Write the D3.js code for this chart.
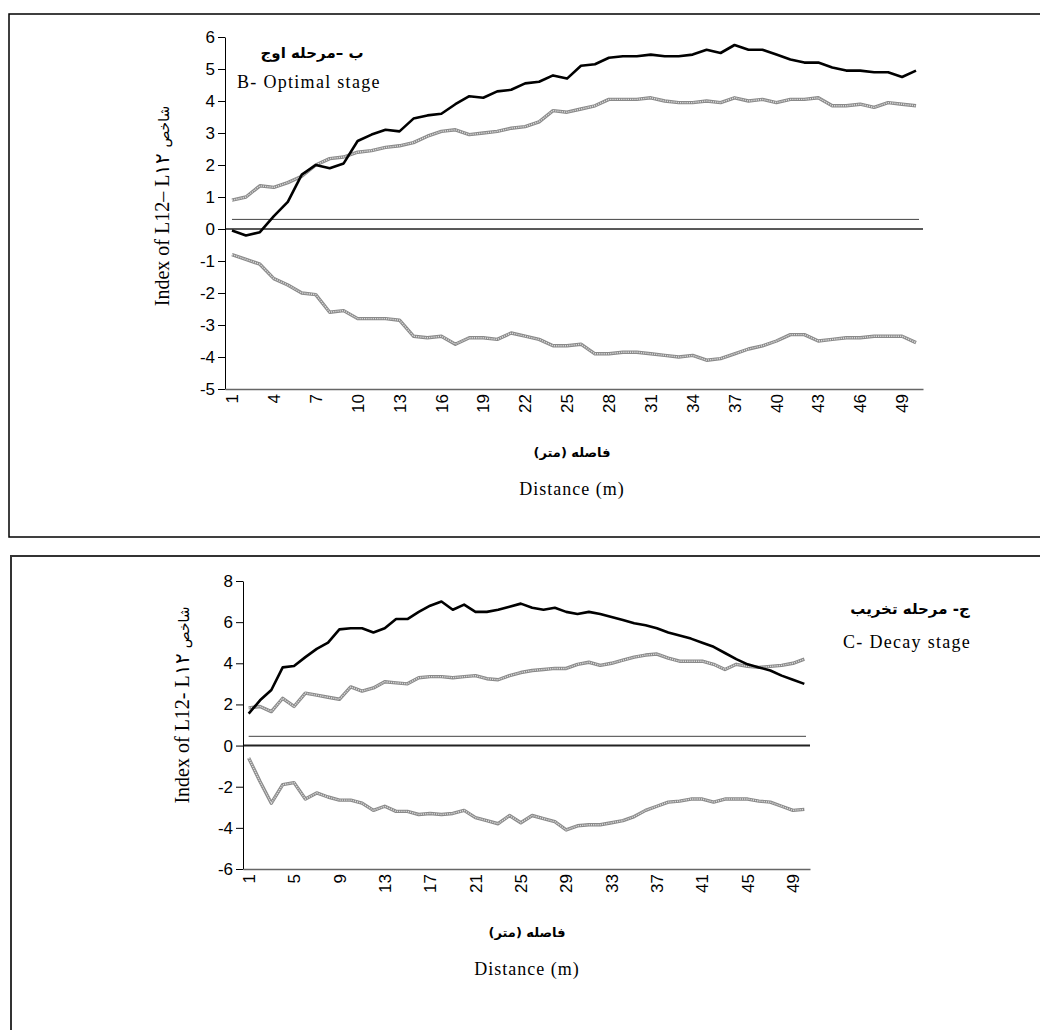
<!DOCTYPE html>
<html><head><meta charset="utf-8">
<script src="https://cdn.jsdelivr.net/npm/d3@7"></script>
<style>body{margin:0;background:#fff}</style></head>
<body><svg id="c" width="1040" height="1030"></svg>
<script>
// ---------- DATA ----------
const distances = [1,2,3,4,5,6,7,8,9,10,11,12,13,14,15,16,17,18,19,20,21,22,23,24,25,26,27,28,29,30,31,32,33,34,35,36,37,38,39,40,41,42,43,44,45,46,47,48,49,50];

// Chart B - Optimal stage
const optimalL = [-0.05,-0.2,-0.1,0.4,0.85,1.7,2.0,1.9,2.05,2.75,2.95,3.1,3.05,3.45,3.55,3.6,3.9,4.15,4.1,4.3,4.35,4.55,4.6,4.8,4.7,5.1,5.15,5.35,5.4,5.4,5.45,5.4,5.4,5.45,5.6,5.5,5.75,5.6,5.6,5.45,5.3,5.2,5.2,5.05,4.95,4.95,4.9,4.9,4.75,4.95];
const optimalUpper = [0.9,1.0,1.35,1.3,1.45,1.65,2.0,2.2,2.25,2.4,2.45,2.55,2.6,2.7,2.9,3.05,3.1,2.95,3.0,3.05,3.15,3.2,3.35,3.7,3.65,3.75,3.85,4.05,4.05,4.05,4.1,4.0,3.95,3.95,4.0,3.95,4.1,4.0,4.05,3.95,4.05,4.05,4.1,3.85,3.85,3.9,3.8,3.95,3.9,3.85];
const optimalLower = [-0.8,-0.95,-1.1,-1.55,-1.75,-2.0,-2.05,-2.6,-2.55,-2.8,-2.8,-2.8,-2.85,-3.35,-3.4,-3.35,-3.6,-3.4,-3.4,-3.45,-3.25,-3.35,-3.45,-3.65,-3.65,-3.6,-3.9,-3.9,-3.85,-3.85,-3.9,-3.95,-4.0,-3.95,-4.1,-4.05,-3.9,-3.75,-3.65,-3.5,-3.3,-3.3,-3.5,-3.45,-3.4,-3.4,-3.35,-3.35,-3.35,-3.55];
const optimalThreshold = 0.3;
const optimalYTicks = [-5,-4,-3,-2,-1,0,1,2,3,4,5,6];
const optimalXLabels = [1,4,7,10,13,16,19,22,25,28,31,34,37,40,43,46,49];

// Chart C - Decay stage
const decayL = [1.55,2.2,2.7,3.8,3.87,4.3,4.7,5.0,5.65,5.7,5.7,5.5,5.7,6.15,6.15,6.5,6.8,7.0,6.6,6.85,6.5,6.5,6.6,6.75,6.9,6.7,6.6,6.7,6.5,6.4,6.5,6.4,6.25,6.1,5.95,5.85,5.7,5.5,5.35,5.2,5.0,4.8,4.5,4.2,3.95,3.8,3.65,3.4,3.2,3.0];
const decayUpper = [1.83,1.9,1.65,2.3,1.9,2.55,2.45,2.35,2.25,2.85,2.65,2.8,3.1,3.05,3.0,3.3,3.35,3.35,3.3,3.35,3.4,3.25,3.2,3.4,3.55,3.65,3.7,3.75,3.75,3.95,4.05,3.9,4.0,4.15,4.3,4.4,4.45,4.25,4.1,4.1,4.1,3.95,3.7,3.95,3.85,3.8,3.85,3.9,4.0,4.2];
const decayLower = [-0.6,-1.75,-2.8,-1.9,-1.8,-2.6,-2.3,-2.5,-2.65,-2.65,-2.8,-3.15,-2.95,-3.2,-3.2,-3.35,-3.3,-3.35,-3.3,-3.15,-3.5,-3.65,-3.8,-3.4,-3.75,-3.4,-3.55,-3.7,-4.1,-3.9,-3.85,-3.85,-3.75,-3.65,-3.45,-3.15,-2.95,-2.75,-2.7,-2.6,-2.6,-2.75,-2.6,-2.6,-2.6,-2.7,-2.75,-2.95,-3.15,-3.1];
const decayThreshold = 0.45;
const decayYTicks = [-6,-4,-2,0,2,4,6,8];
const decayXLabels = [1,5,9,13,17,21,25,29,33,37,41,45,49];

// ---------- DRAW ----------
const svg = d3.select('#c');
const SANS = 'Liberation Sans, Arial, sans-serif';
const SERIF = 'Liberation Serif, Times New Roman, serif';
const FA = 'DejaVu Sans, sans-serif';

// frames
svg.append('rect').attr('x',9).attr('y',14).attr('width',1040).attr('height',523)
  .attr('fill','none').attr('stroke','#000').attr('stroke-width',1.5);
svg.append('rect').attr('x',11).attr('y',556).attr('width',1040).attr('height',490)
  .attr('fill','none').attr('stroke','#333').attr('stroke-width',2);

function chart(o){
  const x = d3.scaleBand().domain(distances).range(o.xr).padding(0);
  const y = d3.scaleLinear().domain(o.yd).range(o.yr);
  const cx = d => x(d) + x.bandwidth()/2;
  const g = svg.append('g');

  // zero line and threshold line
  g.append('line').attr('x1',o.xr[0]).attr('x2',o.xr[1]).attr('y1',y(0)).attr('y2',y(0))
    .attr('stroke','#222').attr('stroke-width',o.zeroW);
  g.append('line').attr('x1',cx(distances[0])).attr('x2',o.xr[1]-4).attr('y1',y(o.thr)).attr('y2',y(o.thr))
    .attr('stroke','#444').attr('stroke-width',1);

  // axes
  const ya = g.append('g').attr('transform',`translate(${o.xr[0]},0)`)
    .call(d3.axisLeft(y).tickValues(o.yt).tickSize(7).tickSizeOuter(0).tickPadding(3).tickFormat(d=>String(d)));
  ya.select('.domain').attr('stroke','#000').attr('stroke-width',1);
  ya.selectAll('.tick line').attr('stroke','#000');
  ya.selectAll('text').attr('font-family',SANS).attr('font-size',17).attr('fill','#000');

  const xa = g.append('g').attr('transform',`translate(0,${o.yr[0]})`)
    .call(d3.axisBottom(x).tickValues(o.xt).tickSize(0).tickSizeOuter(0).tickFormat(d=>String(d)));
  xa.select('.domain').attr('stroke','#666').attr('stroke-width',1.5);
  xa.selectAll('text').attr('font-family',SANS).attr('font-size',17).attr('fill','#000')
    .attr('transform','rotate(-90)').attr('text-anchor','end').attr('x',-5).attr('y',0).attr('dy','0.36em');

  // series
  const line = d3.line().x((d,i)=>cx(distances[i])).y(d=>y(d));
  [o.upper,o.lower].forEach(s=>{
    g.append('path').attr('d',line(s)).attr('fill','none').attr('stroke','#8a8a8a').attr('stroke-width',3.4).attr('stroke-linejoin','round');
    g.append('path').attr('d',line(s)).attr('fill','none').attr('stroke','#dcdcdc').attr('stroke-width',1.4).attr('stroke-dasharray','1.2,1');
  });
  g.append('path').attr('d',line(o.main)).attr('fill','none').attr('stroke','#000').attr('stroke-width',2.6).attr('stroke-linejoin','round');

  // y title (Latin part, then Persian word placed after it)
  const yt = g.append('text').attr('transform',`translate(${o.ytx},${o.yty}) rotate(-90)`)
    .attr('text-anchor','middle').attr('fill','#000');
  yt.append('tspan').attr('font-family',SERIF).attr('font-size',20).text(o.ylab + '\u200E ');
  yt.append('tspan').attr('font-family',FA).attr('font-size',14).text('شاخص');

  // x titles
  g.append('text').attr('x',o.xtx).attr('y',o.xty1).attr('text-anchor','middle').attr('direction','rtl')
    .attr('font-family',FA).attr('font-weight','bold').attr('font-size',13).text('فاصله (متر)');
  g.append('text').attr('x',o.xtx).attr('y',o.xty2).attr('text-anchor','middle')
    .attr('font-family',SERIF).attr('font-size',18).attr('letter-spacing',1).text('Distance (m)');

  // stage titles
  g.append('text').attr('x',o.ttx1).attr('y',o.tty1).attr('text-anchor','middle').attr('direction','rtl')
    .attr('font-family',FA).attr('font-weight','bold').attr('font-size',15).text(o.tfa);
  g.append('text').attr('x',o.ttx2).attr('y',o.tty2).attr('text-anchor','start')
    .attr('font-family',SERIF).attr('font-size',18).attr('letter-spacing',1.3).text(o.ten);
}

chart({xr:[225,923], yd:[-5,6], yr:[389,37], yt:optimalYTicks, xt:optimalXLabels,
  main:optimalL, upper:optimalUpper, lower:optimalLower, thr:optimalThreshold, zeroW:1.6,
  ylab:'Index of L12– L١٢', ytx:169, yty:206,
  xtx:572, xty1:457, xty2:495,
  tfa:'ب –مرحله اوج', ttx1:312, tty1:58, ten:'B- Optimal stage', ttx2:237, tty2:88});

chart({xr:[243,810], yd:[-6,8], yr:[869,581], yt:decayYTicks, xt:decayXLabels,
  main:decayL, upper:decayUpper, lower:decayLower, thr:decayThreshold, zeroW:2,
  ylab:'Index of L12- L١٢', ytx:189, yty:705,
  xtx:527, xty1:937, xty2:975,
  tfa:'ج- مرحله تخریب', ttx1:910, tty1:614, ten:'C- Decay stage', ttx2:843, tty2:648});
</script></body></html>
